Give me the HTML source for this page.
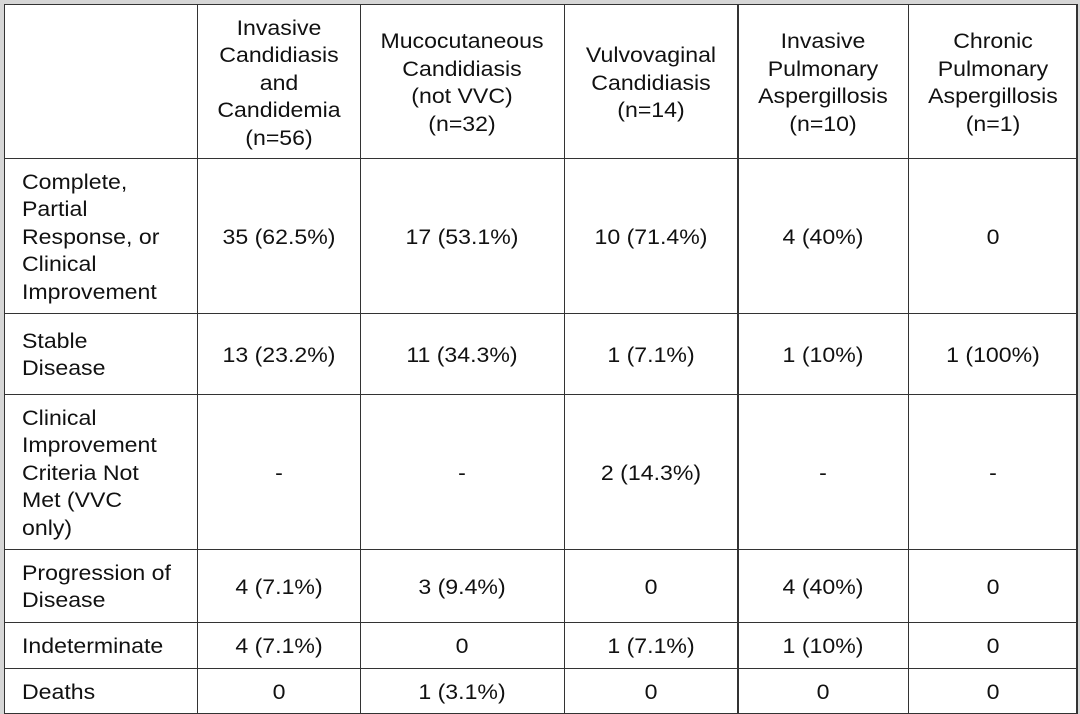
<!DOCTYPE html>
<html>
<head>
<meta charset="utf-8">
<style>
html,body{margin:0;padding:0;}
body{width:1080px;height:714px;overflow:hidden;background:#d6d6d6;position:relative;font-family:"Liberation Sans",Arial,sans-serif;color:#111;}
#tbl{position:absolute;left:4px;top:4px;width:1073px;height:710px;background:#fff;}
.v{position:absolute;top:4px;height:710px;width:1.5px;background:#333;}
.h{position:absolute;left:3.5px;width:1074px;height:1.5px;background:#333;}
.t{position:absolute;font-size:21px;line-height:27.5px;white-space:nowrap;}
.c{width:300px;text-align:center;transform:scaleX(1.1);transform-origin:center;}
.l{left:22px;text-align:left;transform:scaleX(1.1);transform-origin:left;}
</style>
</head>
<body>
<div id="tbl"></div>
<!-- vertical lines -->
<div class="v" style="left:3.5px"></div>
<div class="v" style="left:196.5px"></div>
<div class="v" style="left:359.5px"></div>
<div class="v" style="left:563.5px"></div>
<div class="v" style="left:737px"></div>
<div class="v" style="left:907.5px"></div>
<div class="v" style="left:1076px"></div>
<!-- horizontal lines -->
<div class="h" style="top:3.5px"></div>
<div class="h" style="top:157.5px"></div>
<div class="h" style="top:312.5px"></div>
<div class="h" style="top:393.5px"></div>
<div class="h" style="top:548.5px"></div>
<div class="h" style="top:621.5px"></div>
<div class="h" style="top:667.5px"></div>
<div class="h" style="top:712.5px"></div>

<!-- header -->
<div class="t c" style="left:128.5px;top:14.5px">Invasive<br>Candidiasis<br>and<br>Candidemia<br>(n=56)</div>
<div class="t c" style="left:312px;top:28.3px">Mucocutaneous<br>Candidiasis<br>(not VVC)<br>(n=32)</div>
<div class="t c" style="left:500.75px;top:42px">Vulvovaginal<br>Candidiasis<br>(n=14)</div>
<div class="t c" style="left:672.75px;top:28.3px">Invasive<br>Pulmonary<br>Aspergillosis<br>(n=10)</div>
<div class="t c" style="left:842.5px;top:28.3px">Chronic<br>Pulmonary<br>Aspergillosis<br>(n=1)</div>

<!-- row 1 -->
<div class="t l" style="top:168.5px">Complete,<br>Partial<br>Response, or<br>Clinical<br>Improvement</div>
<div class="t c" style="left:128.5px;top:223.5px">35 (62.5%)</div>
<div class="t c" style="left:312px;top:223.5px">17 (53.1%)</div>
<div class="t c" style="left:500.75px;top:223.5px">10 (71.4%)</div>
<div class="t c" style="left:672.75px;top:223.5px">4 (40%)</div>
<div class="t c" style="left:842.5px;top:223.5px">0</div>

<!-- row 2 -->
<div class="t l" style="top:327.8px">Stable<br>Disease</div>
<div class="t c" style="left:128.5px;top:341.5px">13 (23.2%)</div>
<div class="t c" style="left:312px;top:341.5px">11 (34.3%)</div>
<div class="t c" style="left:500.75px;top:341.5px">1 (7.1%)</div>
<div class="t c" style="left:672.75px;top:341.5px">1 (10%)</div>
<div class="t c" style="left:842.5px;top:341.5px">1 (100%)</div>

<!-- row 3 -->
<div class="t l" style="top:404.5px">Clinical<br>Improvement<br>Criteria Not<br>Met (VVC<br>only)</div>
<div class="t c" style="left:128.5px;top:459.5px">-</div>
<div class="t c" style="left:312px;top:459.5px">-</div>
<div class="t c" style="left:500.75px;top:459.5px">2 (14.3%)</div>
<div class="t c" style="left:672.75px;top:459.5px">-</div>
<div class="t c" style="left:842.5px;top:459.5px">-</div>

<!-- row 4 -->
<div class="t l" style="top:559.8px">Progression of<br>Disease</div>
<div class="t c" style="left:128.5px;top:573.5px">4 (7.1%)</div>
<div class="t c" style="left:312px;top:573.5px">3 (9.4%)</div>
<div class="t c" style="left:500.75px;top:573.5px">0</div>
<div class="t c" style="left:672.75px;top:573.5px">4 (40%)</div>
<div class="t c" style="left:842.5px;top:573.5px">0</div>

<!-- row 5 -->
<div class="t l" style="top:633px">Indeterminate</div>
<div class="t c" style="left:128.5px;top:633px">4 (7.1%)</div>
<div class="t c" style="left:312px;top:633px">0</div>
<div class="t c" style="left:500.75px;top:633px">1 (7.1%)</div>
<div class="t c" style="left:672.75px;top:633px">1 (10%)</div>
<div class="t c" style="left:842.5px;top:633px">0</div>

<!-- row 6 -->
<div class="t l" style="top:678.5px">Deaths</div>
<div class="t c" style="left:128.5px;top:678.5px">0</div>
<div class="t c" style="left:312px;top:678.5px">1 (3.1%)</div>
<div class="t c" style="left:500.75px;top:678.5px">0</div>
<div class="t c" style="left:672.75px;top:678.5px">0</div>
<div class="t c" style="left:842.5px;top:678.5px">0</div>
</body>
</html>
